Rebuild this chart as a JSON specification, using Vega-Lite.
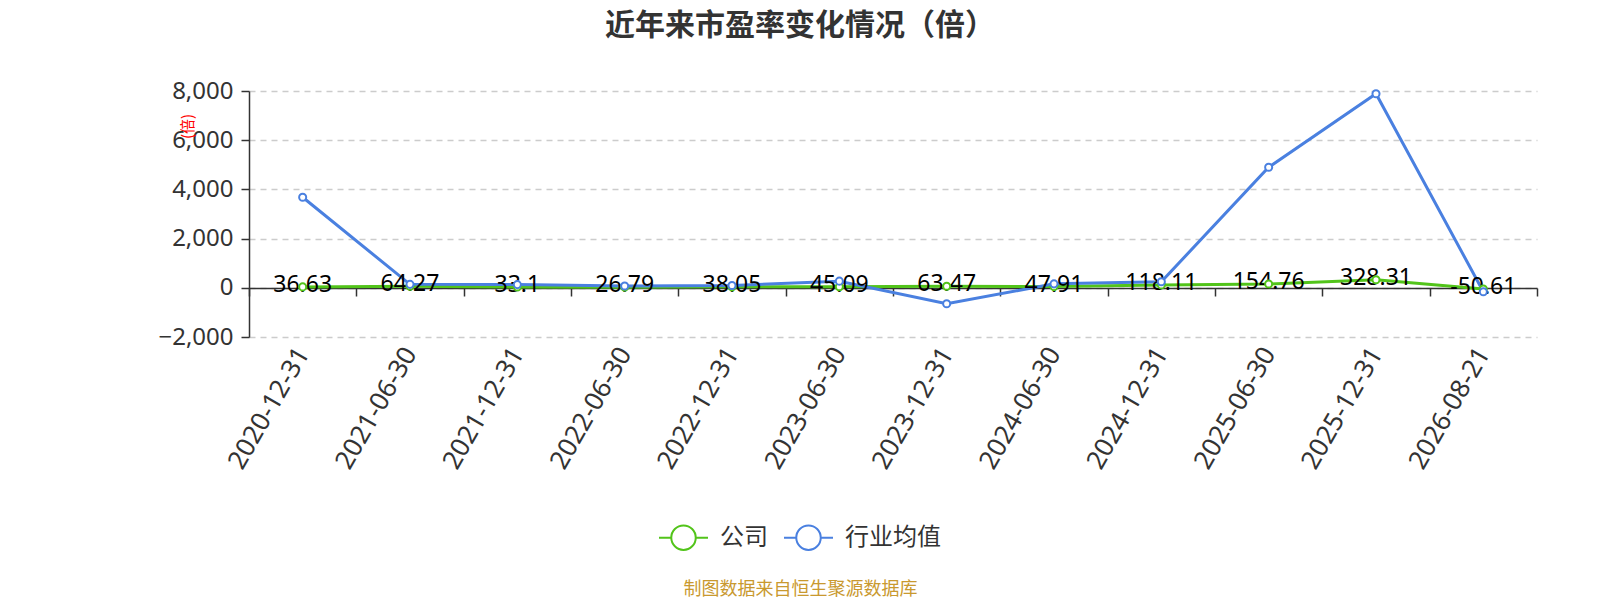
{
  "$schema": "https://vega.github.io/schema/vega-lite/v6.json",
  "width": 1288,
  "height": 246,
  "autosize": {"type": "none"},
  "padding": {"left": 249, "top": 91, "right": 63, "bottom": 263},
  "background": "white",
  "title": {
    "text": "近年来市盈率变化情况（倍）",
    "font": "Noto Sans CJK SC",
    "fontSize": 30,
    "fontWeight": "bold",
    "color": "#333333",
    "anchor": "middle",
    "frame": "group",
    "dx": -93,
    "offset": 38
  },
  "config": {
    "view": {"stroke": null},
    "axis": {"labelFont": "Noto Sans", "labelColor": "#333333"}
  },
  "data": {
    "values": [
      {"date": "2020-12-31", "series": "公司", "value": 36.63},
      {"date": "2021-06-30", "series": "公司", "value": 64.27},
      {"date": "2021-12-31", "series": "公司", "value": 33.1},
      {"date": "2022-06-30", "series": "公司", "value": 26.79},
      {"date": "2022-12-31", "series": "公司", "value": 38.05},
      {"date": "2023-06-30", "series": "公司", "value": 45.09},
      {"date": "2023-12-31", "series": "公司", "value": 63.47},
      {"date": "2024-06-30", "series": "公司", "value": 47.91},
      {"date": "2024-12-31", "series": "公司", "value": 118.11},
      {"date": "2025-06-30", "series": "公司", "value": 154.76},
      {"date": "2025-12-31", "series": "公司", "value": 328.31},
      {"date": "2026-08-21", "series": "公司", "value": -50.61},
      {"date": "2020-12-31", "series": "行业均值", "value": 3680},
      {"date": "2021-06-30", "series": "行业均值", "value": 140},
      {"date": "2021-12-31", "series": "行业均值", "value": 130},
      {"date": "2022-06-30", "series": "行业均值", "value": 70},
      {"date": "2022-12-31", "series": "行业均值", "value": 95},
      {"date": "2023-06-30", "series": "行业均值", "value": 270},
      {"date": "2023-12-31", "series": "行业均值", "value": -650},
      {"date": "2024-06-30", "series": "行业均值", "value": 160},
      {"date": "2024-12-31", "series": "行业均值", "value": 245},
      {"date": "2025-06-30", "series": "行业均值", "value": 4900},
      {"date": "2025-12-31", "series": "行业均值", "value": 7890},
      {"date": "2026-08-21", "series": "行业均值", "value": -160}
    ]
  },
  "encoding": {
    "x": {
      "field": "date",
      "type": "nominal",
      "sort": null,
      "bandPosition": 0.5,
      "scale": {"type": "band", "paddingInner": 0, "paddingOuter": 0},
      "axis": {
        "offset": -49,
        "domainColor": "#333333",
        "domainWidth": 1.5,
        "tickColor": "#333333",
        "tickWidth": 1.5,
        "tickSize": 8,
        "tickBand": "extent",
        "labelAngle": -60,
        "labelAlign": "right",
        "labelBaseline": "middle",
        "labelFontSize": 26,
        "labelPadding": 53,
        "grid": false,
        "title": "制图数据来自恒生聚源数据库",
        "titleFont": "Noto Sans CJK SC",
        "titleFontSize": 18,
        "titleFontWeight": "normal",
        "titleColor": "#c9992f",
        "titleX": 551,
        "titleY": 301,
        "titleAlign": "center",
        "titleBaseline": "middle"
      }
    },
    "y": {
      "field": "value",
      "type": "quantitative",
      "scale": {"domain": [-2000, 8000], "nice": false, "zero": false},
      "axis": {
        "values": [-2000, 0, 2000, 4000, 6000, 8000],
        "format": ",.0f",
        "domainColor": "#333333",
        "domainWidth": 1.5,
        "tickColor": "#333333",
        "tickWidth": 1.5,
        "tickSize": 8,
        "labelFontSize": 24,
        "labelPadding": 8,
        "gridColor": "#cccccc",
        "gridDash": [6, 5],
        "gridWidth": 1.5,
        "title": "(倍)",
        "titleFont": "Noto Sans CJK SC",
        "titleFontSize": 15,
        "titleFontWeight": "normal",
        "titleColor": "#ff0000",
        "titleX": -62,
        "titleY": 35,
        "titleAlign": "center",
        "titleBaseline": "middle"
      }
    },
    "color": {
      "field": "series",
      "type": "nominal",
      "scale": {"domain": ["公司", "行业均值"], "range": ["#52c41a", "#4a80e0"]},
      "legend": {
        "title": null,
        "orient": "none",
        "legendX": 409,
        "legendY": 421,
        "direction": "horizontal",
        "symbolType": "M-1,0L-0.5,0M0.5,0L1,0M-0.5,0A0.5,0.5 0 1,1 0.5,0A0.5,0.5 0 1,1 -0.5,0",
        "symbolSize": 2401,
        "symbolStrokeWidth": 2,
        "symbolFillColor": "white",
        "labelFont": "Noto Sans CJK SC",
        "labelFontSize": 24,
        "labelColor": "#333333",
        "labelOffset": 11,
        "columnPadding": 12
      }
    }
  },
  "layer": [
    {
      "mark": {"type": "line", "strokeWidth": 3},
      "encoding": {"order": {"field": "series"}}
    },
    {
      "transform": [{"filter": "datum.series == '公司'"}],
      "mark": {"type": "text", "font": "Noto Sans", "fontSize": 23, "color": "#000000", "baseline": "middle", "dy": -2},
      "encoding": {"text": {"field": "value", "type": "nominal"}, "color": {"value": "#000000"}}
    },
    {
      "mark": {"type": "point", "filled": true, "size": 50, "strokeWidth": 2, "opacity": 1},
      "encoding": {
        "color": {"value": "white"},
        "stroke": {"field": "series", "type": "nominal", "scale": {"domain": ["公司", "行业均值"], "range": ["#52c41a", "#4a80e0"]}, "legend": null}
      }
    }
  ]
}
